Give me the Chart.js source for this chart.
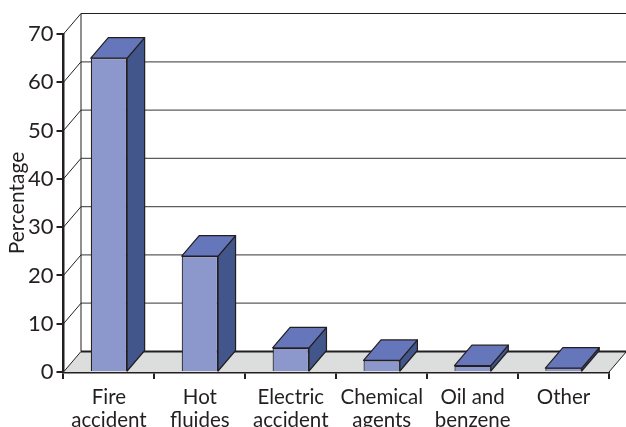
<!DOCTYPE html>
<html>
<head>
<meta charset="utf-8">
<style>html,body{margin:0;padding:0;background:#fff}#wrap{width:626px;height:427px;position:relative;overflow:hidden}</style>
<script src="https://cdn.jsdelivr.net/npm/chart.js@4"></script>
</head>
<body>
<div id="wrap"><canvas id="chart" width="626" height="427"></canvas></div>
<script>
const categories = [["Fire","accident"],["Hot","fluides"],["Electric","accident"],["Chemical","agents"],["Oil and","benzene"],["Other"]];
const percentages = [65, 24, 5, 2.4, 1.3, 0.8];
const tickStep = 10;
const axisMax = 70;

const INK = "#231f20";
const DEPTH_X = 17.5;
const DEPTH_Y = 20.5;

function poly(ctx, pts, fill, stroke, lw) {
  ctx.beginPath();
  pts.forEach((p, i) => i ? ctx.lineTo(p[0], p[1]) : ctx.moveTo(p[0], p[1]));
  ctx.closePath();
  if (fill) { ctx.fillStyle = fill; ctx.fill(); }
  if (stroke) { ctx.strokeStyle = stroke; ctx.lineWidth = lw; ctx.lineJoin = "round"; ctx.stroke(); }
}
function seg(ctx, x1, y1, x2, y2, color, lw) {
  ctx.beginPath();
  ctx.moveTo(x1, y1);
  ctx.lineTo(x2, y2);
  ctx.strokeStyle = color;
  ctx.lineWidth = lw;
  ctx.stroke();
}

// Back wall, side wall and floor of the pseudo-3D box, behind the bars.
const box3d = {
  id: "box3d",
  beforeDatasetsDraw(chart) {
    const { ctx, chartArea: a, scales: { y } } = chart;
    ctx.save();
    const base = y.getPixelForValue(0);
    poly(ctx, [[a.left, base], [a.right, base], [a.right + DEPTH_X, base - DEPTH_Y], [a.left + DEPTH_X, base - DEPTH_Y]], "#dcdddd", null, 0);
    for (let v = tickStep; v <= axisMax; v += tickStep) {
      const py = y.getPixelForValue(v);
      seg(ctx, a.left, py, a.left + DEPTH_X, py - DEPTH_Y, INK, 1);
      seg(ctx, a.left + DEPTH_X, py - DEPTH_Y, a.right + DEPTH_X, py - DEPTH_Y, v === axisMax ? INK : "#5c5c5c", 1.2);
    }
    seg(ctx, a.left, base, a.left + DEPTH_X, base - DEPTH_Y, INK, 1);
    seg(ctx, a.left + DEPTH_X, y.getPixelForValue(axisMax) - DEPTH_Y, a.left + DEPTH_X, base - DEPTH_Y, INK, 1);
    seg(ctx, a.left + DEPTH_X, base - DEPTH_Y, a.right + DEPTH_X, base - DEPTH_Y, INK, 2);
    seg(ctx, a.right, base, a.right + DEPTH_X, base - DEPTH_Y, INK, 1);
    ctx.restore();
  },
  // Top and side faces of each bar, joined to the front face the library draws.
  afterDatasetsDraw(chart) {
    const { ctx } = chart;
    ctx.save();
    chart.getDatasetMeta(0).data.forEach(bar => {
      const { x, y, base, width } = bar.getProps(["x", "y", "base", "width"], true);
      const l = x - width / 2, r = x + width / 2;
      poly(ctx, [[r, y], [r + DEPTH_X, y - DEPTH_Y], [r + DEPTH_X, base - DEPTH_Y], [r, base]], "#42568c", INK, 1.2);
      poly(ctx, [[l, y], [l + DEPTH_X, y - DEPTH_Y], [r + DEPTH_X, y - DEPTH_Y], [r, y]], "#6676ba", INK, 1.2);
    });
    ctx.restore();
  }
};

new Chart(document.getElementById("chart"), {
  type: "bar",
  data: {
    labels: categories,
    datasets: [{
      label: "Percentage",
      data: percentages,
      backgroundColor: "#8c98cc",
      borderColor: INK,
      borderWidth: 1.2,
      barPercentage: 0.4,
      categoryPercentage: 1
    }]
  },
  plugins: [box3d],
  options: {
    responsive: false,
    animation: false,
    layout: { padding: { top: 34, right: 17, bottom: 0, left: 0 } },
    plugins: { legend: { display: false }, tooltip: { enabled: false } },
    scales: {
      x: {
        afterFit(s) { s.height = 55; },
        grid: { drawOnChartArea: false, drawTicks: true, tickLength: 7, color: INK, lineWidth: 2 },
        border: { color: INK, width: 2.5 },
        ticks: { color: INK, padding: 7, maxRotation: 0, autoSkip: false, font: { family: "Lato", size: 20.5, lineHeight: 1.12 } }
      },
      y: {
        min: 0,
        max: axisMax,
        afterFit(s) { s.width = 63.5; },
        grid: { drawOnChartArea: false, drawTicks: true, tickLength: 7, color: INK, lineWidth: 2 },
        border: { color: INK, width: 2.5 },
        ticks: { stepSize: tickStep, color: INK, padding: 3, font: { family: "Lato", size: 22 } },
        title: { display: true, text: "Percentage", color: INK, padding: { top: 5, bottom: 4 }, font: { family: "Lato", size: 21 } }
      }
    }
  }
});
</script>
</body>
</html>
